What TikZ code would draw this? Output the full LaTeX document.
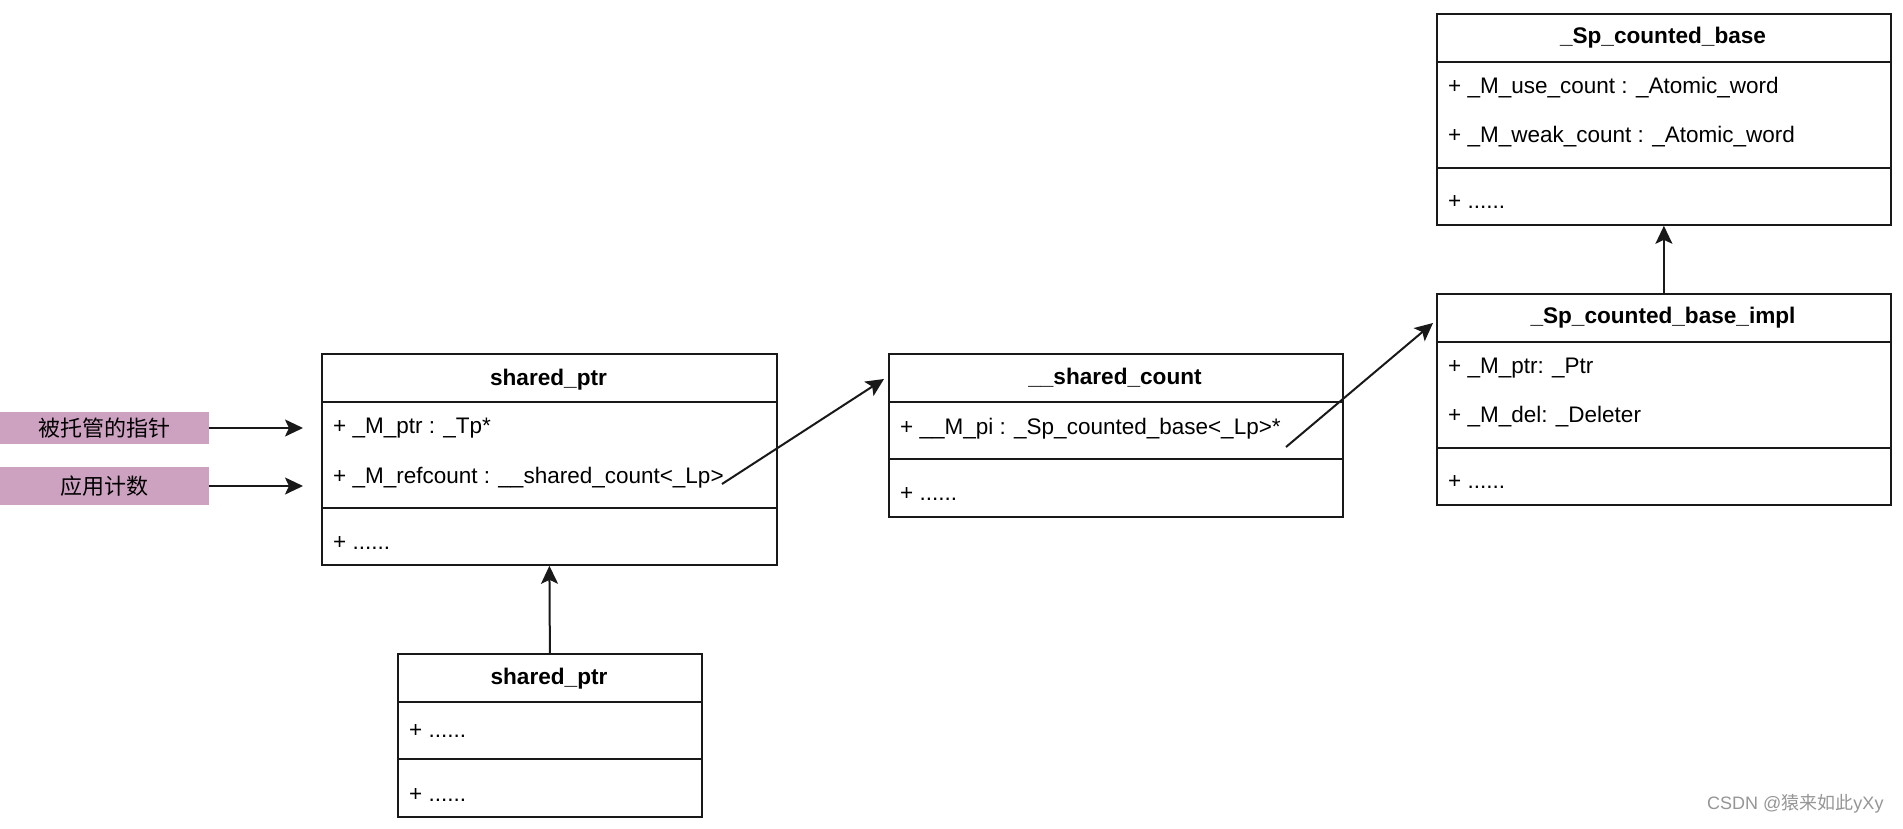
\documentclass[tikz,border=0pt]{standalone}
\usepackage{fontspec}
\setmainfont{Liberation Sans}
\newfontfamily\cjk{Noto Sans CJK SC}
\usetikzlibrary{arrows.meta}
\definecolor{tagpink}{RGB}{205,162,193}
\definecolor{linec}{RGB}{25,25,25}
\definecolor{wmgray}{RGB}{150,150,150}
\begin{document}
\begin{tikzpicture}[x=1pt,y=-1pt,
  box/.style={draw=linec, line width=1.8pt, fill=white, anchor=north west, inner sep=0pt},
  divline/.style={draw=linec, line width=1.8pt},
  hdr/.style={font=\fontsize{22.6}{26}\selectfont\bfseries, inner sep=0pt},
  attr/.style={font=\fontsize{22.5}{26}\selectfont, anchor=west, inner sep=0pt},
  tag/.style={fill=tagpink, inner sep=0pt, minimum width=209pt, font=\cjk\fontsize{22}{26}\selectfont},
  conn/.style={draw=linec, line width=2pt, -{Stealth[length=18pt,width=17pt,inset=4pt]}},
]
\useasboundingbox (0,0) rectangle (1903,828);
\fill[white] (0,0) rectangle (1903,828);

% tags
\node[tag, minimum height=32pt] (t1) at (104.5,428) {被托管的指针};
\node[tag, minimum height=38pt] (t2) at (104.5,486) {应用计数};

% shared_ptr (top)
\node[box, minimum width=455pt, minimum height=211pt] (sp) at (321,353) {};
\draw[divline] (321,402) -- (776,402);
\draw[divline] (321,508) -- (776,508);
\node[hdr] (sph) at (548.5,380) {shared\_ptr};
\node[attr] (spa1) at (333,428) {+ \_M\_ptr : \_Tp*};
\node[attr] (spa2) at (333,478) {+ \_M\_refcount : \_\_shared\_count<\_Lp>};
\node[attr] (spm) at (333,543) {+ ......};

% shared_ptr (bottom)
\node[box, minimum width=304pt, minimum height=163pt] (sp2) at (397,653) {};
\draw[divline] (397,702) -- (701,702);
\draw[divline] (397,759) -- (701,759);
\node[hdr] (sp2h) at (549,679) {shared\_ptr};
\node[attr] (sp2a) at (409,731) {+ ......};
\node[attr] (sp2m) at (409,795) {+ ......};

% __shared_count
\node[box, minimum width=454pt, minimum height=163pt] (sc) at (888,353) {};
\draw[divline] (888,402) -- (1342,402);
\draw[divline] (888,459) -- (1342,459);
\node[hdr] (sch) at (1115,378) {\_\_shared\_count};
\node[attr] (sca) at (900,429) {+ \_\_M\_pi : \_Sp\_counted\_base<\_Lp>*};
\node[attr] (scm) at (900,494) {+ ......};

% _Sp_counted_base
\node[box, minimum width=454pt, minimum height=211pt] (cb) at (1436,13) {};
\draw[divline] (1436,62) -- (1890,62);
\draw[divline] (1436,168) -- (1890,168);
\node[hdr] (cbh) at (1663,38) {\_Sp\_counted\_base};
\node[attr] (cba1) at (1448,88) {+ \_M\_use\_count : \_Atomic\_word};
\node[attr] (cba2) at (1448,137) {+ \_M\_weak\_count : \_Atomic\_word};
\node[attr] (cbm) at (1448,202) {+ ......};

% _Sp_counted_base_impl
\node[box, minimum width=454pt, minimum height=211pt] (ci) at (1436,293) {};
\draw[divline] (1436,342) -- (1890,342);
\draw[divline] (1436,448) -- (1890,448);
\node[hdr] (cih) at (1663,318) {\_Sp\_counted\_base\_impl};
\node[attr] (cia1) at (1448,368) {+ \_M\_ptr: \_Ptr};
\node[attr] (cia2) at (1448,417) {+ \_M\_del: \_Deleter};
\node[attr] (cim) at (1448,482) {+ ......};

% connectors
\coordinate (e1) at (303,428);
\coordinate (e2) at (303,486);
\draw[conn] (t1.east) -- (e1);
\draw[conn] (t2.east) -- (e2);

\coordinate (r1) at (722,484);
\coordinate (r1e) at (884,379);
\draw[conn] (r1) -- (r1e);

\coordinate (r2) at (1286,447);
\coordinate (r2e) at (1433,323);
\draw[conn] (r2) -- (r2e);

\draw[conn] (ci.north) -- (cb.south);
\draw[conn] (sp2.north) -- (sp.south);

% watermark credit
\node[anchor=west, inner sep=0pt, text=wmgray, font=\fontsize{18}{22}\selectfont] (wm) at (1707,804) {CSDN @{\cjk 猿来如此}yXy};
\end{tikzpicture}
\end{document}
